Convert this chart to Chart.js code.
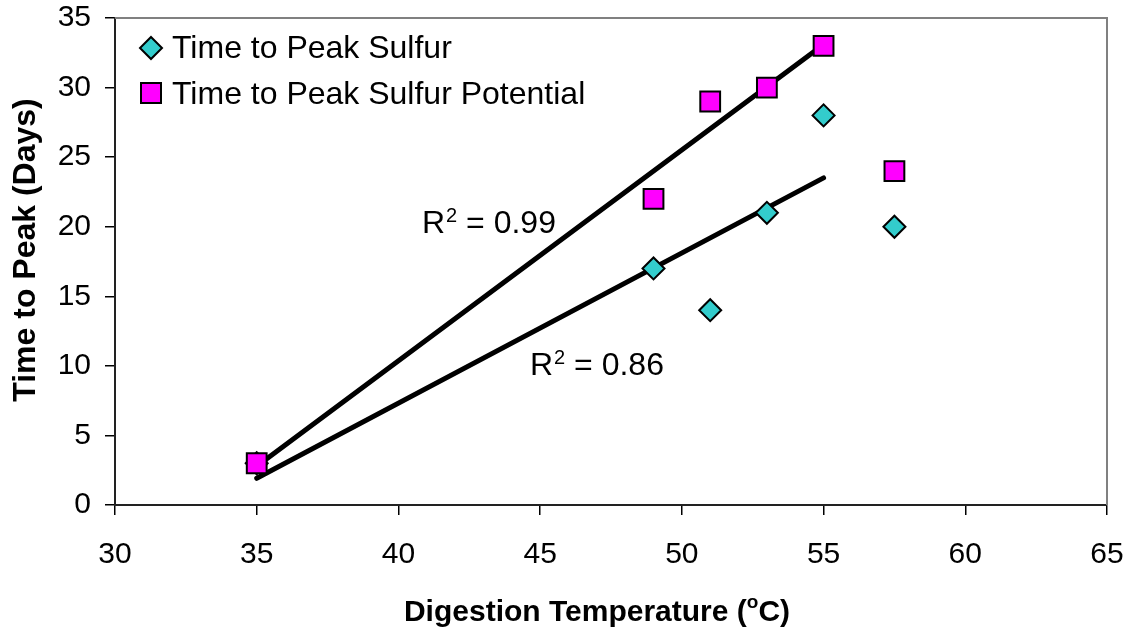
<!DOCTYPE html>
<html>
<head>
<meta charset="utf-8">
<script src="https://cdn.jsdelivr.net/npm/chart.js@4/dist/chart.umd.min.js"></script>
<style>
  html, body { margin: 0; padding: 0; background: #fff; }
  #wrap { width: 1128px; height: 630px; }
</style>
</head>
<body>
<div id="wrap"><canvas id="c"></canvas></div>
<script>
// temperatures (°C)
const temps = [35, 49, 51, 53, 55, 57.5]
const sulfur = [3, 17, 14, 21, 28, 20]
const sulfurPotential = [3, 22, 29, 30, 33, 24]
// trend lines are fitted over the first five points only
const fitCount = 5
const xTicks = [30, 35, 40, 45, 50, 55, 60, 65]
const yTicks = [0, 5, 10, 15, 20, 25, 30, 35]
// R² labels, anchored left/baseline in data units
const r2Labels = [
    { text: '0.99', x: 40.83, y: 19.55 },
    { text: '0.86', x: 44.64, y: 9.35 }
]

const FONT = '"Liberation Sans", Arial, sans-serif'

function fit(xs, ys) {
    let n = xs.length, mx = 0, my = 0
    for (let i = 0; i < n; i++) { mx += xs[i]; my += ys[i] }
    mx /= n; my /= n
    let sxx = 0, sxy = 0
    for (let i = 0; i < n; i++) {
        sxx += (xs[i] - mx) ** 2
        sxy += (xs[i] - mx) * (ys[i] - my)
    }
    let b = sxy / sxx, a = my - b * mx
    return [{ x: xs[0], y: a + b * xs[0] }, { x: xs[n - 1], y: a + b * xs[n - 1] }]
}

const pts = (ys) => temps.map((t, i) => ({ x: t, y: ys[i] }))

const extras = {
    id: 'extras',
    afterDraw(chart) {
        const ctx = chart.ctx
        const a = chart.chartArea
        const xs = chart.scales.x, ys = chart.scales.y
        ctx.save()
        // plot frame top/right
        ctx.strokeStyle = '#808080'
        ctx.lineWidth = 2
        ctx.beginPath()
        ctx.moveTo(a.left, a.top)
        ctx.lineTo(a.right, a.top)
        ctx.lineTo(a.right, a.bottom)
        ctx.stroke()

        // legend
        ctx.textBaseline = 'alphabetic'
        ctx.textAlign = 'left'
        ctx.lineWidth = 2
        ctx.strokeStyle = '#000'
        ctx.beginPath()
        ctx.moveTo(151, 37); ctx.lineTo(162, 48); ctx.lineTo(151, 59); ctx.lineTo(140, 48); ctx.closePath()
        ctx.fillStyle = '#33CCCC'; ctx.fill(); ctx.stroke()
        ctx.fillStyle = '#FF00FF'
        ctx.fillRect(141, 83, 20, 20)
        ctx.strokeRect(141, 83, 20, 20)
        ctx.fillStyle = '#000'
        ctx.font = '32px ' + FONT
        ctx.fillText('Time to Peak Sulfur', 172, 58)
        ctx.fillText('Time to Peak Sulfur Potential', 172, 104)

        // R² labels
        r2Labels.forEach(l => {
            let px = xs.getPixelForValue(l.x), py = ys.getPixelForValue(l.y)
            ctx.font = '32px ' + FONT
            let w1 = ctx.measureText('R').width
            ctx.fillText('R', px, py)
            ctx.font = '20px ' + FONT
            let w2 = ctx.measureText('2').width
            ctx.fillText('2', px + w1 + 1, py - 11)
            ctx.font = '32px ' + FONT
            ctx.fillText(' = ' + l.text, px + w1 + w2 + 1, py)
        })

        // x title with superscript o
        ctx.font = 'bold 30px ' + FONT
        let t1 = 'Digestion Temperature (', t3 = 'C)'
        let w1 = ctx.measureText(t1).width
        let w3 = ctx.measureText(t3).width
        ctx.font = 'bold 19px ' + FONT
        let w2 = ctx.measureText('o').width
        let x0 = 597 - (w1 + w2 + w3) / 2
        let ty = 621
        ctx.font = 'bold 30px ' + FONT
        ctx.fillText(t1, x0, ty)
        ctx.font = 'bold 19px ' + FONT
        ctx.fillText('o', x0 + w1, ty - 13)
        ctx.font = 'bold 30px ' + FONT
        ctx.fillText(t3, x0 + w1 + w2, ty)

        // y title
        ctx.translate(35, 250)
        ctx.rotate(-Math.PI / 2)
        ctx.textAlign = 'center'
        ctx.font = 'bold 32px ' + FONT
        ctx.fillText('Time to Peak (Days)', 0, 0)
        ctx.restore()
    }
}

new Chart(document.getElementById('c'), {
    type: 'scatter',
    data: {
        datasets: [
            {
                label: 'trend potential',
                type: 'line',
                data: fit(temps.slice(0, fitCount), sulfurPotential.slice(0, fitCount)),
                borderColor: '#000',
                borderWidth: 5,
                borderCapStyle: 'round',
                pointRadius: 0,
                fill: false,
                order: 2
            },
            {
                label: 'trend sulfur',
                type: 'line',
                data: fit(temps.slice(0, fitCount), sulfur.slice(0, fitCount)),
                borderColor: '#000',
                borderWidth: 5,
                borderCapStyle: 'round',
                pointRadius: 0,
                fill: false,
                order: 2
            },
            {
                label: 'Time to Peak Sulfur',
                data: pts(sulfur),
                pointStyle: 'rectRot',
                pointRadius: 11,
                pointHoverRadius: 11,
                backgroundColor: '#33CCCC',
                borderColor: '#000',
                borderWidth: 2,
                order: 1
            },
            {
                label: 'Time to Peak Sulfur Potential',
                data: pts(sulfurPotential),
                pointStyle: 'rect',
                pointRadius: 14,
                pointHoverRadius: 14,
                backgroundColor: '#FF00FF',
                borderColor: '#000',
                borderWidth: 2,
                order: 0
            }
        ]
    },
    options: {
        responsive: true,
        maintainAspectRatio: false,
        animation: false,
        clip: false,
        layout: { padding: { left: 0, top: 18, right: 21, bottom: 0 } },
        plugins: {
            legend: { display: false },
            tooltip: { enabled: false }
        },
        scales: {
            x: {
                type: 'linear',
                min: 30,
                max: 65,
                afterBuildTicks: (s) => { s.ticks = xTicks.map(v => ({ value: v })) },
                afterFit: (s) => { s.height = 125; s.paddingLeft = 0; s.paddingRight = 0 },
                grid: { drawOnChartArea: false, tickLength: 10, color: '#000', lineWidth: 1.5 },
                border: { color: '#222', width: 2 },
                ticks: { color: '#000', font: { family: FONT, size: 30 }, padding: 22, maxRotation: 0 }
            },
            y: {
                min: 0,
                max: 35,
                afterBuildTicks: (s) => { s.ticks = yTicks.map(v => ({ value: v })) },
                afterFit: (s) => { s.width = 115; s.paddingTop = 0; s.paddingBottom = 0 },
                grid: { drawOnChartArea: false, tickLength: 10, color: '#000', lineWidth: 1.5 },
                border: { color: '#222', width: 2 },
                ticks: { color: '#000', font: { family: FONT, size: 30 }, padding: 14 }
            }
        }
    },
    plugins: [extras]
})
</script>
</body>
</html>
